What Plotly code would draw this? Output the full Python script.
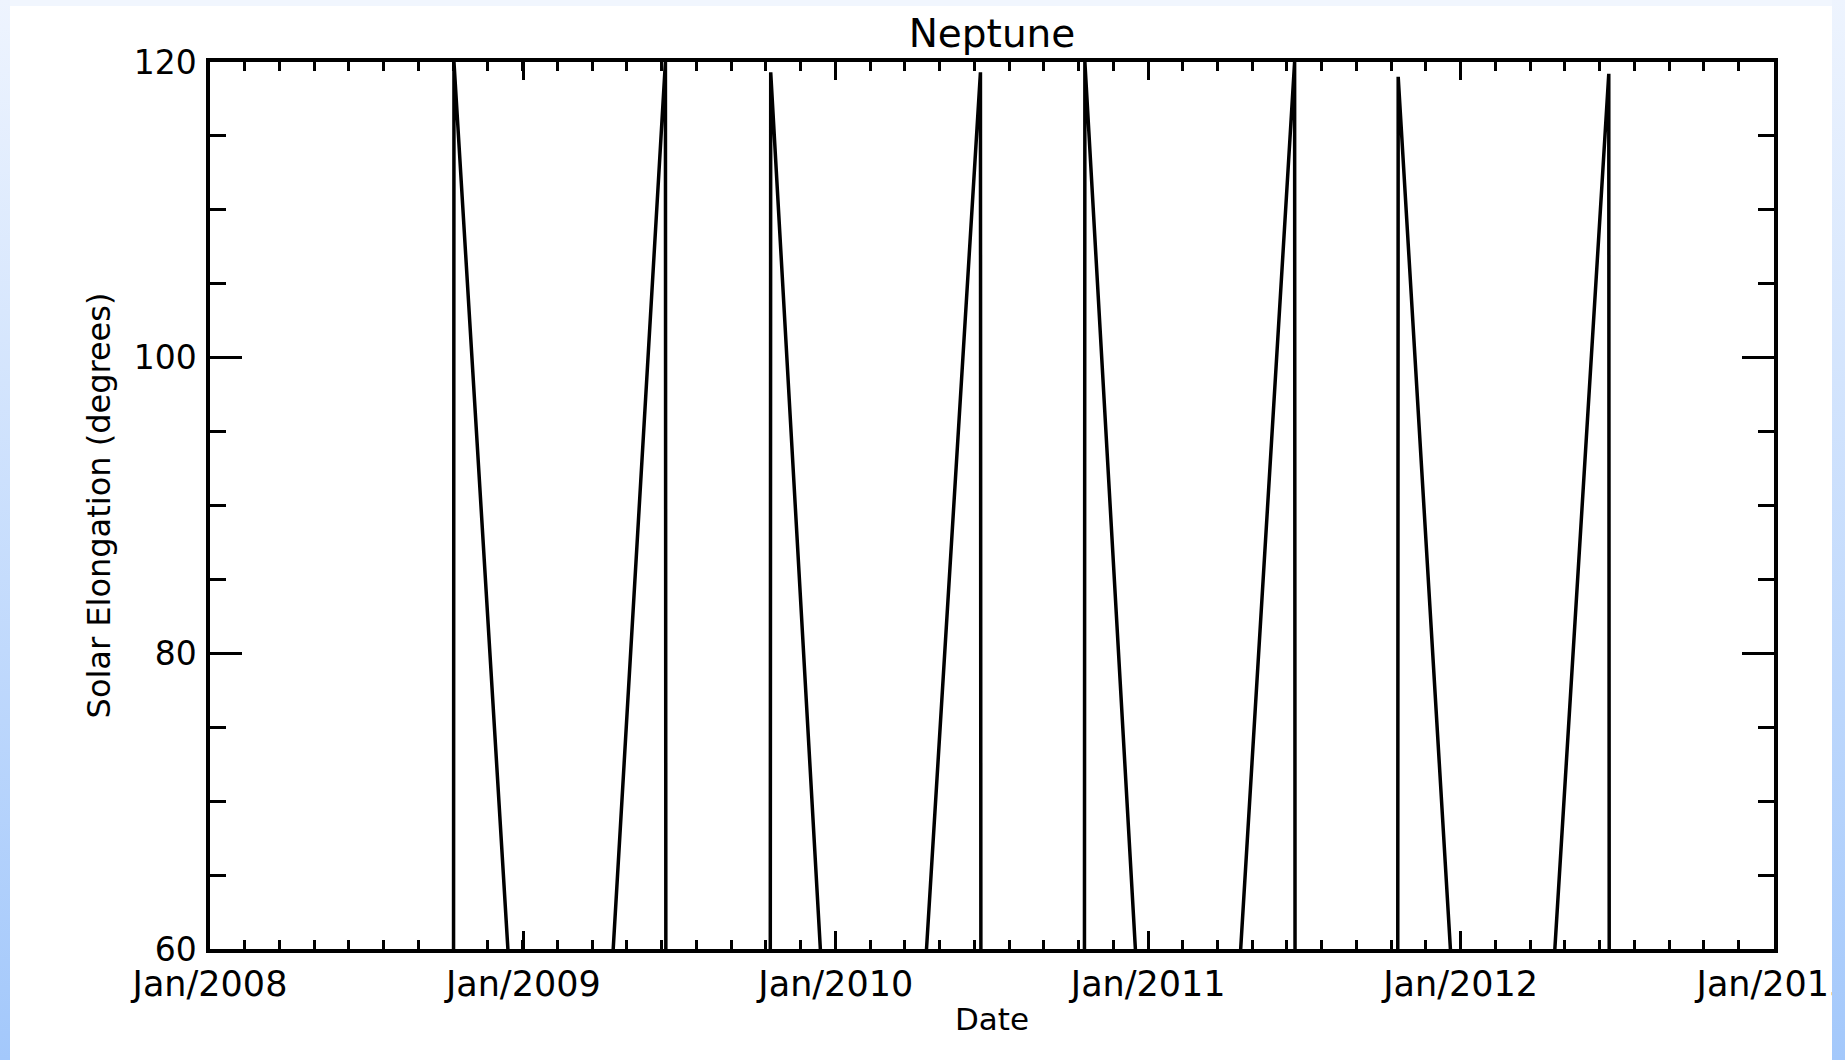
import base64
import plotly.graph_objects as go

# ---- data (daily samples; 0 = outside the 60-120 deg window) ----
dates = [
    "2008-01-01",
    "2008-10-11", "2008-10-12", "2008-12-14", "2008-12-15",
    "2009-04-15", "2009-04-16", "2009-06-16", "2009-06-17",
    "2009-10-16", "2009-10-17", "2009-12-14", "2009-12-15",
    "2010-04-16", "2010-04-17", "2010-06-19", "2010-06-20",
    "2010-10-18", "2010-10-19", "2010-12-17", "2010-12-18",
    "2011-04-18", "2011-04-19", "2011-06-21", "2011-06-22",
    "2011-10-19", "2011-10-20", "2011-12-20", "2011-12-21",
    "2012-04-19", "2012-04-20", "2012-06-22", "2012-06-23",
    "2012-12-31",
]
elongation = [
    0,
    0, 120.0, 60.0, 0,
    0, 60.0, 120.0, 0,
    0, 119.3, 60.0, 0,
    0, 60.0, 119.3, 0,
    0, 120.0, 60.0, 0,
    0, 60.0, 120.0, 0,
    0, 119.0, 60.0, 0,
    0, 60.0, 119.2, 0,
    0,
]

title_text = "Neptune"
x_title = "Date"
y_title = "Solar Elongation (degrees)"
x_range = ["2008-01-01", "2013-01-01"]
y_range = [60, 120]

W, H = 1845, 1060
L, R, T, B = 210, 1774, 62, 949

FONT = "DejaVu Sans"


def grad_uri(c_top, c_bot):
    svg = ('<svg xmlns="http://www.w3.org/2000/svg" width="20" height="200" '
           'viewBox="0 0 20 200" preserveAspectRatio="none">'
           '<defs><linearGradient id="g" x1="0" y1="0" x2="0" y2="1">'
           f'<stop offset="0" stop-color="{c_top}"/>'
           f'<stop offset="1" stop-color="{c_bot}"/>'
           '</linearGradient></defs>'
           '<rect width="20" height="200" fill="url(#g)"/></svg>')
    return "data:image/svg+xml;base64," + base64.b64encode(svg.encode()).decode()


def px_img(x0, x1, y0, y1, uri):
    pw, ph = R - L, B - T
    return dict(source=uri, xref="paper", yref="paper",
                x=(x0 - L) / pw, y=(B - y0) / ph,
                sizex=(x1 - x0) / pw, sizey=(y1 - y0) / ph,
                xanchor="left", yanchor="top", sizing="stretch", layer="above")


fig = go.Figure()
fig.add_trace(go.Scatter(x=dates, y=elongation, mode="lines",
                         line=dict(color="black", width=3.5), showlegend=False,
                         hoverinfo="skip"))

year_ms = 365.25 * 86400000

axis_common = dict(showline=True, linecolor="black", linewidth=3.5, mirror="ticks",
                   ticks="inside", tickcolor="black", tickwidth=3, showgrid=False,
                   zeroline=False, ticklabeloverflow="allow", automargin=False)

fig.update_xaxes(type="date", range=x_range, dtick="M12", tick0="2008-01-01",
                 tickformat="%b/%Y", ticklen=18, ticklabelstandoff=1,
                 tickfont=dict(family=FONT, size=35, color="black"),
                 minor=dict(dtick=year_ms / 9, tick0="2008-01-01", ticks="inside",
                            ticklen=9, tickwidth=3, tickcolor="black", showgrid=False),
                 title=dict(text=x_title, font=dict(family=FONT, size=31, color="black"),
                            standoff=7),
                 **axis_common)
fig.update_yaxes(range=y_range, dtick=20, tick0=60, ticklen=32, ticklabelstandoff=3,
                 tickfont=dict(family=FONT, size=33, color="black"),
                 minor=dict(dtick=5, ticks="inside", ticklen=16, tickwidth=3,
                            tickcolor="black", showgrid=False),
                 title=dict(text=y_title, font=dict(family=FONT, size=32, color="black"),
                            standoff=14),
                 **axis_common)

fig.update_layout(
    width=W, height=H,
    margin=dict(l=L, r=W - R, t=T, b=H - B, pad=0, autoexpand=False),
    paper_bgcolor="white", plot_bgcolor="white",
    title=dict(text=title_text, x=0.5, xref="paper", xanchor="center",
               y=1 - 33 / H, yref="container", yanchor="middle",
               font=dict(family=FONT, size=39, color="black")),
    images=[
        px_img(0, 10, 0, H, grad_uri("#eef4fe", "#a3c8fb")),
        px_img(1832, W, 0, H, grad_uri("#eef4fe", "#a3c8fb")),
        px_img(10, 1832, 0, 6, grad_uri("#f1f6fe", "#f1f6fe")),
    ],
)

fig.write_html("out.html")
